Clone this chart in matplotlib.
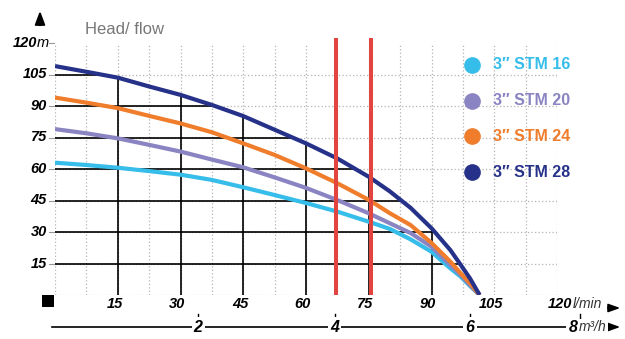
import numpy as np
import matplotlib
matplotlib.use("Agg")
import matplotlib.pyplot as plt
from matplotlib.patches import Polygon, Rectangle
from matplotlib.transforms import blended_transform_factory

plt.rcParams['font.family'] = ['Liberation Sans', 'DejaVu Sans']

# ---- data ----
flow_lpm = [0, 7.5, 15, 22.5, 30, 37.5, 45, 52.5, 60, 67.5, 75, 80, 85, 90, 94.5, 97, 99.2, 101.5]
stm16 = [63, 61.9, 60.6, 59, 57.3, 54.8, 51.3, 47.6, 43.8, 39.7, 34.9, 31.5, 26.5, 20.6, 12.7, 8.7, 4.3, 0]
stm20 = [79, 77, 74.6, 71.5, 68.3, 64.5, 60.8, 56, 51, 45.2, 38.9, 34.2, 29.5, 23, 14.3, 9.5, 4.8, 0]
stm24 = [94, 91.6, 89, 85.3, 81.7, 77.5, 72.2, 66.7, 60.3, 53.2, 45.3, 39, 33.3, 24.8, 15.9, 10.3, 5.6, 0]
stm28 = [109, 106.3, 103.5, 99.3, 95.3, 90.5, 85.2, 78.7, 72.2, 65, 56.3, 49.4, 41.5, 31.8, 21.4, 14.3, 7.9, 0]
series_names = ['3\u2033 STM 16', '3\u2033 STM 20', '3\u2033 STM 24', '3\u2033 STM 28']
series_colors = ['#36bde9', '#8a84c2', '#f07d2c', '#263189']
red_lines = [67.2, 75.5]
x_ticks = [15, 30, 45, 60, 75, 90, 105, 120]
y_ticks = [15, 30, 45, 60, 75, 90, 105, 120]
m3h_labels = ['2', '4', '6', '8']
m3h_pos = [34.2, 66.9, 99.2, 123.8]

W, H = 625, 339
fig = plt.figure(figsize=(W / 100, H / 100), dpi=100)
fig.patch.set_facecolor('white')
ax = fig.add_axes([55 / W, 1 - 295 / H, (557 - 55) / W, (295 - 43) / H])
ax.set_xlim(0, 120)
ax.set_ylim(0, 120)
for s in ax.spines.values():
    s.set_visible(False)
ax.set_xticks([])
ax.set_yticks([])

dot = dict(color='#b4b4b4', lw=0.9, ls=(0, (1, 1.8)), zorder=1)
# dotted grid
for xv in np.arange(0, 120.1, 7.5):
    ax.plot([xv, xv], [0, 120], **dot)
for yv in [0] + y_ticks[:-1]:
    ax.plot([0, 120], [yv, yv], **dot)

# solid grid clipped under the top curve
verts = list(zip(flow_lpm, stm28)) + [(0, 0)]
clip = Polygon(verts, closed=True, transform=ax.transData, facecolor='none', edgecolor='none')
ax.add_patch(clip)
for xv in x_ticks:
    ln, = ax.plot([xv, xv], [0, 120], color='black', lw=1.2, zorder=2)
    ln.set_clip_path(clip)
for yv in y_ticks[:-1]:
    ln, = ax.plot([0, 120], [yv, yv], color='black', lw=1.2, zorder=2)
    ln.set_clip_path(clip)

# curves
for ys, c in zip([stm16, stm20, stm24, stm28], series_colors):
    ax.plot(flow_lpm, ys, color=c, lw=3.0, solid_capstyle='butt', solid_joinstyle='round', zorder=4)

# red lines
for xv in red_lines:
    ax.plot([xv, xv], [0, 122.5], color='#e2453f', lw=2.9, zorder=5, clip_on=False,
            solid_capstyle='butt')

# legend
lx, tx = 0.831, 0.873
for i, (n, c) in enumerate(zip(series_names, series_colors)):
    yy = 0.913 - i * 0.1418
    ax.plot([lx], [yy], marker='o', ms=11, color=c, transform=ax.transAxes,
            clip_on=False, zorder=6)
    ax.text(tx, yy, n, color=c, fontsize=11.5, fontweight='bold',
            transform=ax.transAxes, va='center', ha='left', zorder=6)

# y tick labels
ytr = blended_transform_factory(ax.transAxes, ax.transData)
for yv in y_ticks:
    ax.plot([-0.012, -0.002], [yv, yv], color='#999999', lw=0.8, transform=ytr, clip_on=False)
    if yv == 120:
        ax.text(-0.036, yv, '120', transform=ytr, ha='right', va='center',
                fontsize=10.5, fontweight='bold', fontstyle='italic')
        ax.text(-0.037, yv, 'm', transform=ytr, ha='left', va='center',
                fontsize=10.5, fontstyle='italic')
    else:
        ax.text(-0.016, yv, str(yv), transform=ytr, ha='right', va='center',
                fontsize=10.5, fontweight='bold', fontstyle='italic')

# x tick labels (l/min)
xtr = blended_transform_factory(ax.transData, ax.transAxes)
for xv in x_ticks:
    if xv == 120:
        ax.text(1.03, -0.037, str(xv), transform=ax.transAxes, ha='right', va='center',
                fontsize=10.5, fontweight='bold', fontstyle='italic')
    else:
        ax.text(xv - 0.8, -0.037, str(xv), transform=xtr, ha='center', va='center',
                fontsize=10.5, fontweight='bold', fontstyle='italic')
ax.text(1.031, -0.037, 'l/min', transform=ax.transAxes, ha='left', va='center',
        fontsize=10, fontstyle='italic', color='#333333')
ax.annotate('', xy=(623 / W, 1 - 308 / H), xytext=(605 / W, 1 - 308 / H),
            xycoords='figure fraction',
            arrowprops=dict(arrowstyle='-|>,head_length=0.7,head_width=0.25', color='black', lw=1.2))

# m3/h axis
ly = -(327 - 295) / 252
ax.plot([-0.006, 1.08], [ly, ly], color='black', lw=1.2, transform=ax.transAxes, clip_on=False)
for lab, xp in zip(m3h_labels, m3h_pos):
    tick_x = xp if lab != '8' else xp + 1.6
    ax.plot([tick_x, tick_x], [-(319 - 295) / 252, -(314 - 295) / 252], color='black', lw=1.0,
            transform=xtr, clip_on=False)
    ax.text(xp, ly, lab, transform=xtr, ha='center', va='center', fontsize=11.5,
            fontweight='bold', fontstyle='italic',
            bbox=dict(facecolor='white', edgecolor='none', pad=1.5), zorder=7)
ax.text(125.3, ly, 'm\u00b3/h', transform=xtr, ha='left', va='center', fontsize=10,
        fontstyle='italic', color='#333333',
        bbox=dict(facecolor='white', edgecolor='none', pad=0.8), zorder=7)
ax.annotate('', xy=(623 / W, 1 - 327 / H), xytext=(605 / W, 1 - 327 / H),
            xycoords='figure fraction',
            arrowprops=dict(arrowstyle='-|>,head_length=0.7,head_width=0.25', color='black', lw=1.2))

# origin square
fig.patches.append(Rectangle((42 / W, 1 - 307 / H), 12 / W, 12 / H, transform=fig.transFigure,
                             facecolor='black', edgecolor='none'))

# top arrow
ax.annotate('', xy=(40 / W, 1 - 8 / H), xytext=(40 / W, 1 - 28 / H),
            xycoords='figure fraction',
            arrowprops=dict(arrowstyle='-|>,head_length=0.8,head_width=0.3', color='black', lw=1.5))

# title
fig.text(85 / W, 1 - 30 / H, 'Head/ flow', color='#777777', fontsize=12, ha='left', va='center')

fig.savefig('out.png', dpi=100, facecolor='white')
